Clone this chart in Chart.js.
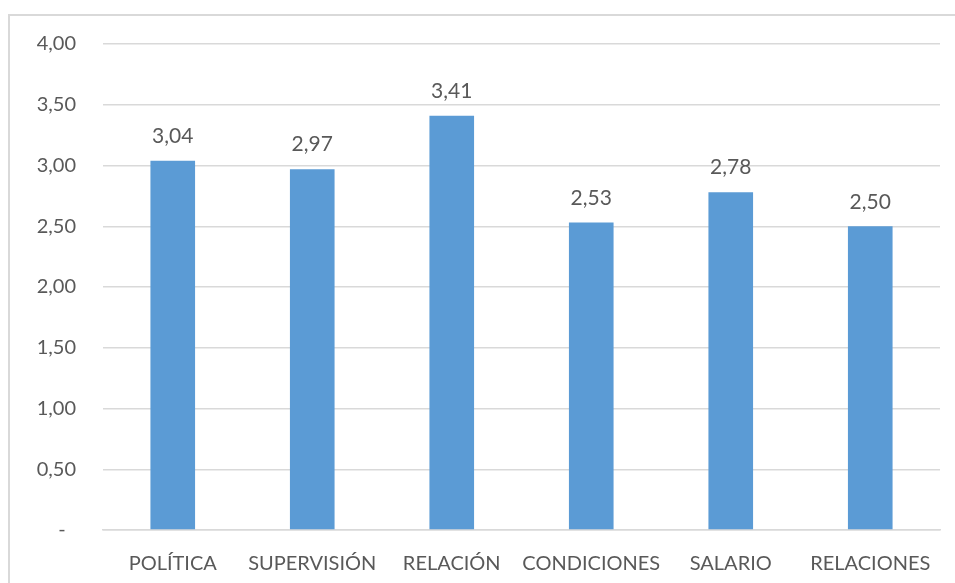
<!DOCTYPE html>
<html>
<head>
<meta charset="utf-8">
<script src="https://cdn.jsdelivr.net/npm/chart.js@4/dist/chart.umd.min.js"></script>
<style>
  html, body { margin: 0; padding: 0; background: #ffffff; }
  #wrap { width: 955px; height: 583px; position: relative; }
</style>
</head>
<body>
<div id="wrap"><canvas id="c" width="955" height="583"></canvas></div>
<script>
const categories = ['POLÍTICA', 'SUPERVISIÓN', 'RELACIÓN', 'CONDICIONES', 'SALARIO', 'RELACIONES'];
const values = [3.04, 2.97, 3.41, 2.53, 2.78, 2.50];
const yTicks = [0, 0.5, 1, 1.5, 2, 2.5, 3, 3.5, 4];

const FONT = "Lato, 'Open Sans', 'Liberation Sans', sans-serif";
const TEXT = '#595959';

function fmt(v) {
  if (v === 0) return '-  ';
  return v.toFixed(2).replace('.', ',');
}

// Value labels above each bar
const valueLabels = {
  id: 'valueLabels',
  afterDatasetsDraw(chart) {
    const ctx = chart.ctx;
    const meta = chart.getDatasetMeta(0);
    ctx.save();
    ctx.font = '21px ' + FONT;
    ctx.fillStyle = TEXT;
    ctx.textAlign = 'center';
    ctx.textBaseline = 'bottom';
    meta.data.forEach((bar, i) => {
      ctx.fillText(fmt(values[i]), bar.x, bar.y - 14);
    });
    ctx.restore();
  }
};

// Outer chart frame (top and left edges)
const frame = {
  id: 'frame',
  beforeDraw(chart) {
    const ctx = chart.ctx;
    ctx.save();
    ctx.strokeStyle = '#d9d9d9';
    ctx.lineWidth = 2;
    ctx.beginPath();
    ctx.moveTo(9, 583);
    ctx.lineTo(9, 15);
    ctx.lineTo(955, 15);
    ctx.stroke();
    ctx.restore();
  }
};

new Chart(document.getElementById('c'), {
  type: 'bar',
  data: {
    labels: categories,
    datasets: [{
      data: values,
      backgroundColor: '#5B9BD5',
      borderWidth: 0,
      categoryPercentage: 1,
      barPercentage: 0.32
    }]
  },
  options: {
    responsive: false,
    animation: false,
    layout: { padding: { top: 44, right: 15, left: 0, bottom: 0 } },
    plugins: { legend: { display: false }, tooltip: { enabled: false } },
    scales: {
      x: {
        grid: { display: false, drawTicks: false },
        border: { display: true, color: '#d9d9d9', width: 1.5 },
        ticks: { color: TEXT, font: { size: 20, family: FONT }, padding: 22, maxRotation: 0, autoSkip: false },
        afterFit(scale) { scale.height = 53; }
      },
      y: {
        min: 0,
        max: 4,
        afterBuildTicks(scale) { scale.ticks = yTicks.map(v => ({ value: v })); },
        grid: { color: '#d9d9d9', lineWidth: 1.5, drawTicks: false },
        border: { display: false },
        ticks: {
          color: TEXT,
          font: { size: 20, family: FONT },
          padding: 27,
          callback: (v) => fmt(v)
        },
        afterFit(scale) { scale.width = 103; }
      }
    }
  },
  plugins: [frame, valueLabels]
});
</script>
</body>
</html>
